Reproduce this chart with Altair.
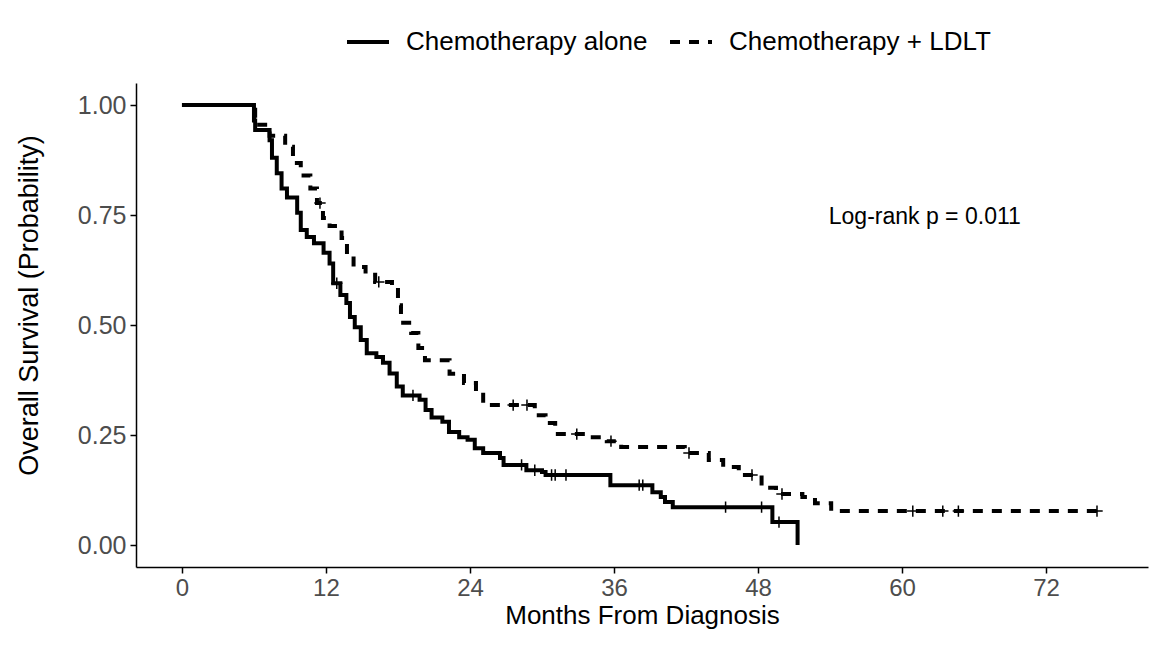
import altair as alt
import pandas as pd

groups = ["Chemotherapy alone", "Chemotherapy + LDLT"]

# Kaplan-Meier steps: (months, survival after the step)
alone_time = [0, 6.0, 6.1, 7.3, 7.5, 7.9, 8.3, 8.75, 9.6, 9.9, 10.4, 11.0, 11.8, 12.3, 12.6,
              13.2, 13.7, 14.0, 14.4, 14.9, 15.4, 16.2, 16.75, 17.3, 17.9, 18.4, 19.8, 20.3,
              20.8, 21.7, 22.25, 23.1, 23.8, 24.4, 25.1, 26.5, 26.8, 28.7, 30.0, 30.3, 35.7,
              39.2, 39.9, 40.25, 40.9, 49.2, 51.3]
alone_surv = [1.0, 0.965, 0.943, 0.92, 0.88, 0.845, 0.81, 0.79, 0.755, 0.716, 0.70, 0.686,
              0.664, 0.64, 0.595, 0.568, 0.55, 0.518, 0.495, 0.466, 0.436, 0.427, 0.414, 0.39,
              0.36, 0.34, 0.33, 0.307, 0.29, 0.28, 0.257, 0.245, 0.239, 0.22, 0.209, 0.198,
              0.182, 0.17, 0.166, 0.159, 0.136, 0.12, 0.109, 0.098, 0.086, 0.052, 0.0]
alone_censor = [12.9, 19.25, 28.3, 29.4, 30.8, 31.1, 32.0, 38.1, 38.4, 45.3, 48.3, 49.75]

ldlt_time = [0, 6.1, 7.3, 8.6, 9.25, 9.9, 10.7, 11.25, 11.75, 12.3, 13.3, 13.75, 14.3, 15.3,
             16.1, 17.5, 18.0, 18.25, 19.1, 19.7, 20.25, 22.3, 23.5, 24.5, 25.1, 29.4, 30.3,
             31.1, 33.75, 35.4, 36.6, 41.9, 43.9, 45.1, 46.4, 48.3, 49.5, 51.7, 52.75, 54.1,
             76.25]
ldlt_surv = [1.0, 0.955, 0.93, 0.905, 0.868, 0.84, 0.81, 0.777, 0.743, 0.725, 0.698, 0.66,
             0.632, 0.614, 0.598, 0.586, 0.545, 0.505, 0.482, 0.448, 0.42, 0.389, 0.368,
             0.348, 0.318, 0.295, 0.277, 0.252, 0.245, 0.236, 0.223, 0.209, 0.193, 0.177,
             0.159, 0.13, 0.116, 0.109, 0.095, 0.077, 0.077]
ldlt_censor = [11.5, 16.4, 27.6, 28.75, 32.9, 35.75, 42.25, 47.5, 50.0, 60.9, 63.4, 64.7, 76.25]

x_ticks = [0, 12, 24, 36, 48, 60, 72]
y_ticks = [0.0, 0.25, 0.5, 0.75, 1.0]
pval_text = "Log-rank p = 0.011"


def step_value(times, survs, t):
    val = survs[0]
    for ti, si in zip(times, survs):
        if ti <= t:
            val = si
    return val


curve_rows = []
for g, ts, ss in [(groups[0], alone_time, alone_surv), (groups[1], ldlt_time, ldlt_surv)]:
    for t, s in zip(ts, ss):
        curve_rows.append({"group": g, "time": t, "surv": s})
curve_df = pd.DataFrame(curve_rows)

cens_rows = []
for g, cs, ts, ss in [(groups[0], alone_censor, alone_time, alone_surv),
                      (groups[1], ldlt_censor, ldlt_time, ldlt_surv)]:
    for c in cs:
        cens_rows.append({"group": g, "time": c, "surv": step_value(ts, ss, c)})
cens_df = pd.DataFrame(cens_rows)

FONT = "Liberation Sans"

x_scale = alt.Scale(domain=[-3.83, 80.5], nice=False, zero=False)
y_scale = alt.Scale(domain=[-0.05, 1.05], nice=False, zero=False)
dash_scale = alt.Scale(domain=groups, range=[[1, 0], [10, 9]])

x_axis = alt.Axis(values=x_ticks, title="Months From Diagnosis", labelFontSize=24,
                  labelColor="#4D4D4D", labelFont=FONT, tickColor="black", tickWidth=1.5,
                  tickSize=6, domainColor="black", domainWidth=1.5, labelPadding=3,
                  titleFontSize=26, titleFont=FONT, titleFontWeight="normal",
                  titleColor="black", grid=False, titleY=48, titleBaseline="middle")
y_axis = alt.Axis(values=y_ticks, format=".2f", title="Overall Survival (Probability)",
                  labelFontSize=25, labelColor="#4D4D4D", labelFont=FONT, tickColor="black",
                  tickWidth=1.5, tickSize=6, domainColor="black", domainWidth=1.5,
                  labelPadding=4, titleFontSize=27, titleFont=FONT, titleFontWeight="normal",
                  titleColor="black", grid=False, titleX=-107, titleY=222,
                  titleBaseline="middle", titleAlign="center")

lines = alt.Chart(curve_df).mark_line(interpolate="step-after", strokeWidth=4,
                                      color="black").encode(
    x=alt.X("time:Q", scale=x_scale, axis=x_axis),
    y=alt.Y("surv:Q", scale=y_scale, axis=y_axis),
    strokeDash=alt.StrokeDash("group:N", scale=dash_scale, sort=groups,
                              legend=alt.Legend(title=None, orient="none", legendX=209,
                                                legendY=-64, direction="horizontal",
                                                symbolType="stroke", symbolSize=1764,
                                                symbolStrokeWidth=4,
                                                symbolStrokeColor="black",
                                                labelFontSize=26, labelFont=FONT,
                                                labelColor="black", labelOffset=15,
                                                labelLimit=0, columnPadding=14)),
)

marks = alt.Chart(cens_df).mark_point(shape="M-1,0L1,0M0,-1L0,1", size=130, strokeWidth=1.5,
                                      color="black", filled=False, opacity=1).encode(
    x=alt.X("time:Q", scale=x_scale),
    y=alt.Y("surv:Q", scale=y_scale),
)

pval = alt.Chart(pd.DataFrame({"label": [pval_text]})).mark_text(
    fontSize=23, font=FONT, color="black", align="center", baseline="middle").encode(
    x=alt.datum(61.9), y=alt.datum(0.745), text="label:N")

chart = alt.layer(lines, marks, pval).properties(
    width=1012, height=484,
    autosize=alt.AutoSizeParams(type="none"),
    padding={"left": 128, "top": 75, "right": 10, "bottom": 72},
    background="white",
).configure_view(strokeWidth=0)

chart.save("out.html", embed_options={"renderer": "svg", "actions": False})
